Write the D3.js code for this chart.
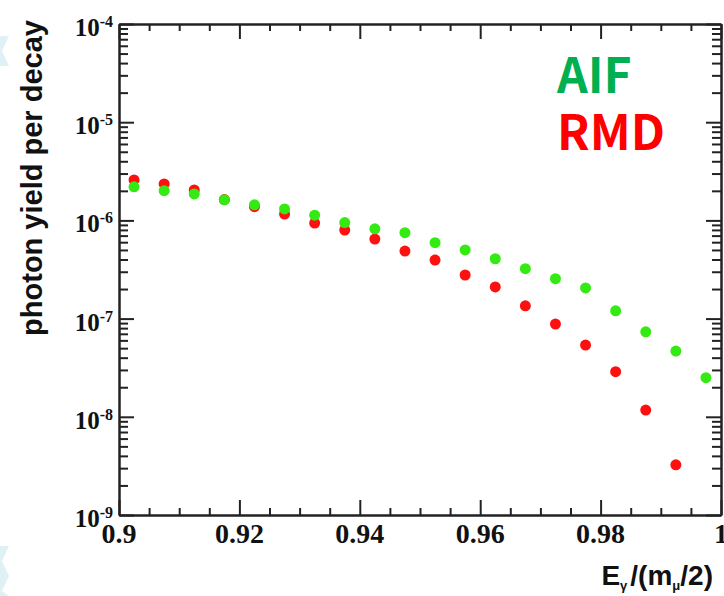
<!DOCTYPE html>
<html><head><meta charset="utf-8">
<script src="https://cdn.jsdelivr.net/npm/d3@7"></script>
<style>html,body{margin:0;padding:0;background:#fff;overflow:hidden}</style>
</head><body><svg id="c" width="724" height="596"></svg>
<script>
// ---- data ----
const energies = [0.9025,0.9075,0.9125,0.9175,0.9225,0.9275,0.9325,0.9375,0.9425,0.9475,
                  0.9525,0.9575,0.9625,0.9675,0.9725,0.9775,0.9825,0.9875,0.9925,0.9975];
const aifYield = [2.20e-6,2.01e-6,1.86e-6,1.62e-6,1.44e-6,1.31e-6,1.13e-6,9.5e-7,8.2e-7,7.5e-7,
                  5.93e-7,5.0e-7,4.07e-7,3.22e-7,2.55e-7,2.05e-7,1.20e-7,7.34e-8,4.67e-8,2.50e-8];
const rmdYield = [2.58e-6,2.35e-6,2.04e-6,1.63e-6,1.38e-6,1.16e-6,9.4e-7,7.98e-7,6.46e-7,4.87e-7,
                  3.95e-7,2.78e-7,2.10e-7,1.35e-7,8.8e-8,5.38e-8,2.88e-8,1.17e-8,3.24e-9];
const xTickValues = [0.9,0.92,0.94,0.96,0.98,1.0];
const xTickLabels = ["0.9","0.92","0.94","0.96","0.98","1"];
const yDecades = [1e-9,1e-8,1e-7,1e-6,1e-5,1e-4];
const yExponents = ["-9","-8","-7","-6","-5","-4"];
const legendLabels = ["AIF","RMD"];
const yTitle = "photon yield per decay";

// ---- layout ----
const L = 119, R = 721, T = 24, B = 515;
const svg = d3.select("#c");
const x = d3.scaleLinear().domain([0.9,1.0]).range([L,R]);
const y = d3.scaleLog().domain([1e-9,1e-4]).range([B,T]);

// faint decoration at left edge
const deco = svg.append("g").attr("fill","#dff1f5");
deco.append("path").attr("d","M0,36 L9,36 L2,51 L9,66 L0,66 Z");
deco.append("path").attr("d","M0,546 L9,546 L2,561 L9,576 L2,591 L9,596 L0,596 Z");

const minorX = d3.range(0.9,1.0001,0.005).filter(v => Math.abs(Math.round(v/0.02)*0.02 - v) > 1e-6);
const minorY = [];
yDecades.slice(0,-1).forEach(d => { for (let k=2;k<=9;k++) minorY.push(d*k); });

function styleAxis(g){
  g.selectAll("path.domain").attr("stroke","#222").attr("stroke-width",2);
  g.selectAll(".tick line").attr("stroke","#222").attr("stroke-width",2);
  g.selectAll(".tick text").remove();
}
// bottom
svg.append("g").attr("transform",`translate(0,${B})`)
  .call(d3.axisBottom(x).tickValues(minorX).tickSize(-7).tickSizeOuter(0).tickFormat("")).call(styleAxis);
svg.append("g").attr("transform",`translate(0,${B})`)
  .call(d3.axisBottom(x).tickValues(xTickValues).tickSize(-15).tickSizeOuter(0).tickFormat("")).call(styleAxis);
// top
svg.append("g").attr("transform",`translate(0,${T})`)
  .call(d3.axisTop(x).tickValues(minorX).tickSize(-7).tickSizeOuter(0).tickFormat("")).call(styleAxis);
svg.append("g").attr("transform",`translate(0,${T})`)
  .call(d3.axisTop(x).tickValues(xTickValues).tickSize(-15).tickSizeOuter(0).tickFormat("")).call(styleAxis);
// left
svg.append("g").attr("transform",`translate(${L},0)`)
  .call(d3.axisLeft(y).tickValues(minorY).tickSize(-9).tickSizeOuter(0).tickFormat("")).call(styleAxis);
svg.append("g").attr("transform",`translate(${L},0)`)
  .call(d3.axisLeft(y).tickValues(yDecades).tickSize(-15).tickSizeOuter(0).tickFormat("")).call(styleAxis);
// right
svg.append("g").attr("transform",`translate(${R},0)`)
  .call(d3.axisRight(y).tickValues(minorY).tickSize(-9).tickSizeOuter(0).tickFormat("")).call(styleAxis);
svg.append("g").attr("transform",`translate(${R},0)`)
  .call(d3.axisRight(y).tickValues(yDecades).tickSize(-15).tickSizeOuter(0).tickFormat("")).call(styleAxis);

// x tick labels
svg.append("g").selectAll("text").data(xTickValues).join("text")
  .attr("x", d => x(d)).attr("y", 543)
  .attr("text-anchor","middle")
  .attr("font-family","'Liberation Serif', serif").attr("font-weight","bold").attr("font-size",28)
  .attr("fill","#111")
  .text((d,i) => xTickLabels[i]);

// y tick labels
const yl = svg.append("g").selectAll("text").data(yDecades).join("text")
  .attr("x", 113).attr("y", d => y(d) + 12)
  .attr("text-anchor","end")
  .attr("font-family","'Liberation Serif', serif").attr("font-weight","bold").attr("font-size",25)
  .attr("fill","#111");
yl.append("tspan").text("10");
yl.append("tspan").attr("font-size",16).attr("dy",-9).text((d,i) => yExponents[i]);

// data points
svg.append("g").selectAll("circle").data(rmdYield).join("circle")
  .attr("cx",(d,i) => x(energies[i])).attr("cy", d => y(d)).attr("r",5.5).attr("fill","#ff1010");
svg.append("g").selectAll("circle").data(aifYield).join("circle")
  .attr("cx",(d,i) => x(energies[i])).attr("cy", d => y(d)).attr("r",5.5).attr("fill","#33ea12");

// legend
const legColors = ["#00b050","#ff0000"];
svg.append("g").selectAll("text").data(legendLabels).join("text")
  .attr("x",557).attr("y",(d,i) => 93 + i*57)
  .attr("font-family","'Noto Sans CJK SC','Noto Sans',sans-serif").attr("font-weight","bold")
  .attr("font-size",48).attr("fill",(d,i)=>legColors[i]).text(d=>d);

// y title
svg.append("text").attr("transform","translate(42,178) rotate(-90)")
  .attr("text-anchor","middle")
  .attr("font-family","'Liberation Sans', Arial, sans-serif").attr("font-weight","bold")
  .attr("font-size",29).attr("fill","#111").text(yTitle);

// x title
const xt = svg.append("text").attr("x",713).attr("y",585).attr("text-anchor","end")
  .attr("font-family","'Liberation Sans', Arial, sans-serif").attr("font-weight","bold")
  .attr("font-size",28).attr("fill","#111");
xt.append("tspan").text("E");
xt.append("tspan").attr("font-size",13).attr("dy",5).text("γ");
xt.append("tspan").attr("dy",-5).attr("dx",3).text("/(m");
xt.append("tspan").attr("font-size",13).attr("dy",5).text("μ");
xt.append("tspan").attr("dy",-5).text("/2)");
</script></body></html>
